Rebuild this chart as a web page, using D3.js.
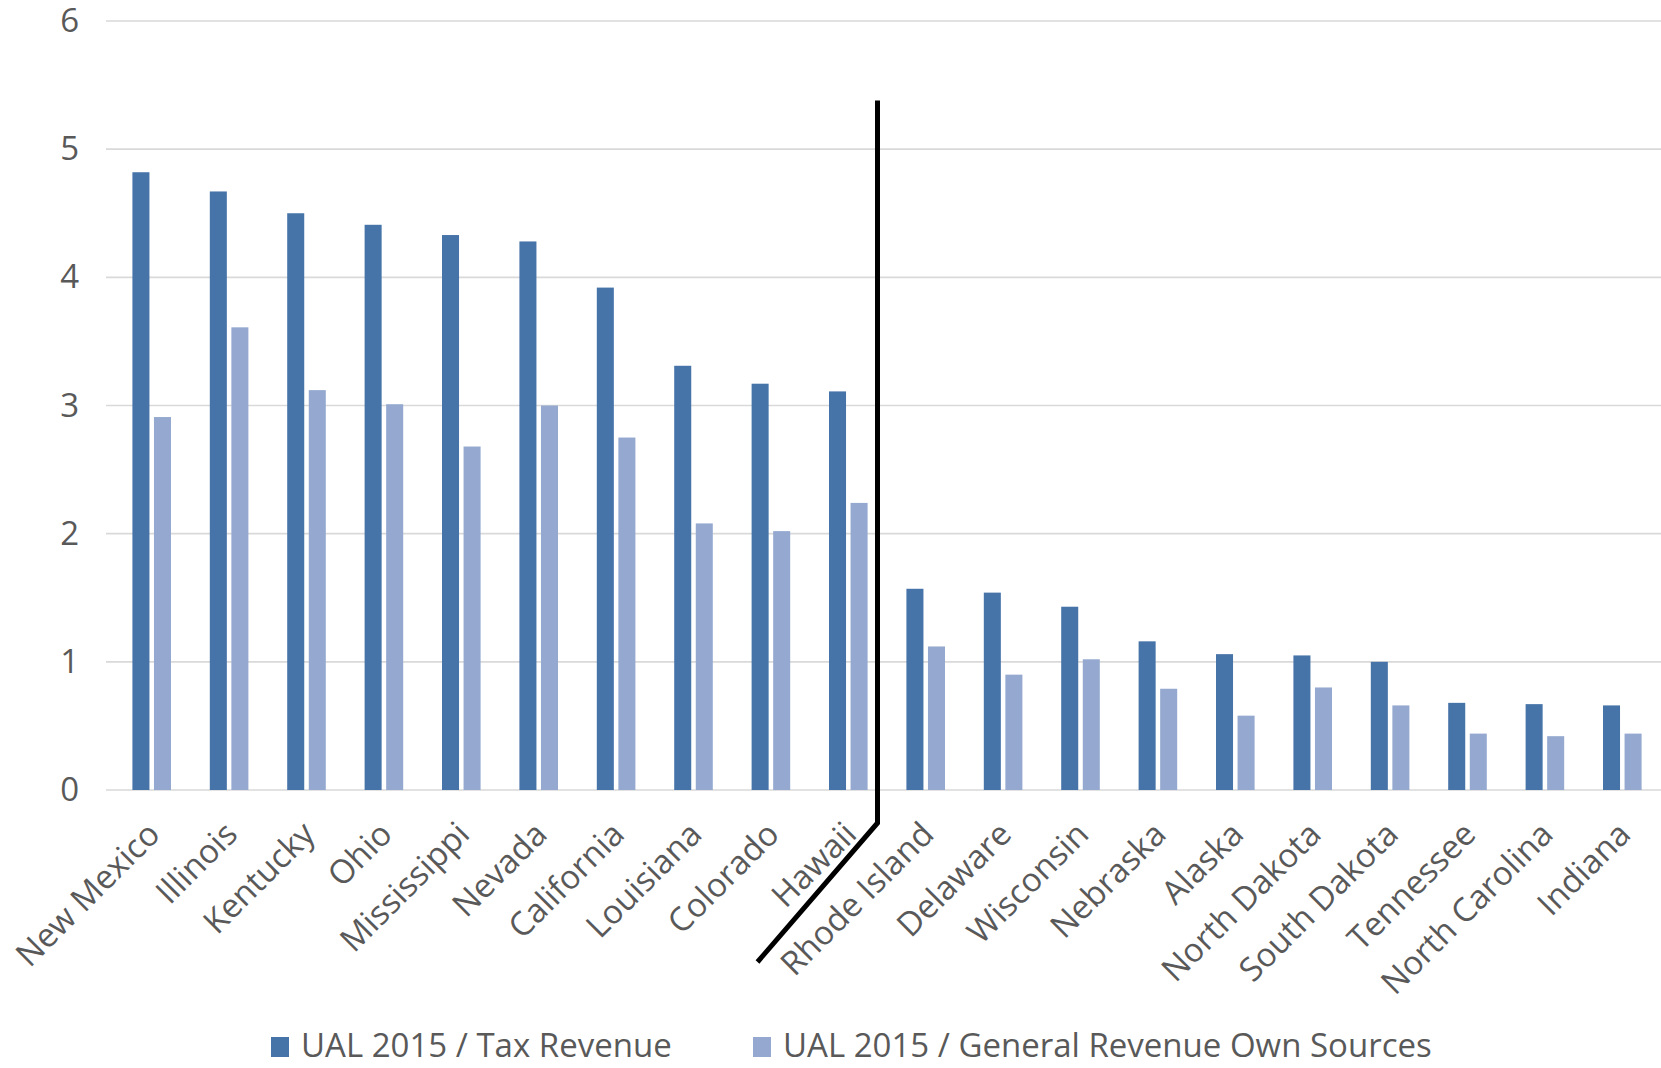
<!DOCTYPE html>
<html>
<head>
<meta charset="utf-8">
<script src="https://cdn.jsdelivr.net/npm/d3@7"></script>
<style>
  html, body { margin: 0; padding: 0; background: #fff; }
  svg { display: block; }
  text { font-family: "Open Sans", "Noto Sans", sans-serif; fill: #595959; }
</style>
</head>
<body>
<svg id="chart" width="1661" height="1068"></svg>
<script>
// States ordered by unfunded accrued liability (2015) relative to tax revenue
const states = ["New Mexico", "Illinois", "Kentucky", "Ohio", "Mississippi", "Nevada",
  "California", "Louisiana", "Colorado", "Hawaii", "Rhode Island", "Delaware",
  "Wisconsin", "Nebraska", "Alaska", "North Dakota", "South Dakota", "Tennessee",
  "North Carolina", "Indiana"];

const taxRevenue = [4.82, 4.67, 4.50, 4.41, 4.33, 4.28, 3.92, 3.31, 3.17, 3.11,
  1.57, 1.54, 1.43, 1.16, 1.06, 1.05, 1.00, 0.68, 0.67, 0.66];

const generalRevenue = [2.91, 3.61, 3.12, 3.01, 2.68, 3.00, 2.75, 2.08, 2.02, 2.24,
  1.12, 0.90, 1.02, 0.79, 0.58, 0.80, 0.66, 0.44, 0.42, 0.44];

const seriesNames = ["UAL 2015 / Tax Revenue", "UAL 2015 / General Revenue Own Sources"];
const seriesColors = ["#4674a8", "#95a9d0"];
const yTicks = [0, 1, 2, 3, 4, 5, 6];

const svg = d3.select("#chart");

const x0 = d3.scaleBand().domain(states).range([113, 1661]).padding(0);
const x1 = d3.scaleBand().domain([0, 1]).range([0, x0.bandwidth()])
  .paddingInner(0.21).paddingOuter(0.9);
const y = d3.scaleLinear().domain([0, 6]).range([790, 21]);

// horizontal gridlines
svg.append("g")
  .selectAll("line")
  .data(yTicks)
  .join("line")
  .attr("x1", 106)
  .attr("x2", 1661)
  .attr("y1", d => y(d))
  .attr("y2", d => y(d))
  .attr("stroke", "#d9d9d9")
  .attr("stroke-width", 1.6);

// y axis labels
const yAxis = svg.append("g")
  .attr("transform", "translate(79,0)")
  .call(d3.axisLeft(y).tickValues(yTicks).tickSize(0).tickPadding(0).tickFormat(d3.format("d")));
yAxis.select(".domain").remove();
yAxis.selectAll("text")
  .attr("font-size", 33)
  .attr("fill", "#595959")
  .attr("font-family", "Open Sans");

// bars
const rows = states.map((s, i) => ({ state: s, values: [taxRevenue[i], generalRevenue[i]] }));
const groups = svg.append("g")
  .selectAll("g")
  .data(rows)
  .join("g")
  .attr("transform", d => `translate(${x0(d.state)},0)`);

groups.selectAll("rect")
  .data(d => d.values.map((v, k) => ({ k, v })))
  .join("rect")
  .attr("x", d => x1(d.k))
  .attr("width", x1.bandwidth())
  .attr("y", d => y(d.v))
  .attr("height", d => y(0) - y(d.v))
  .attr("fill", d => seriesColors[d.k]);

// category labels, rotated
const xAxis = svg.append("g")
  .attr("transform", `translate(0,${y(0)})`)
  .call(d3.axisBottom(x0).tickSize(0).tickPadding(0));
xAxis.select(".domain").remove();
xAxis.selectAll("text")
  .attr("font-size", 33)
  .attr("font-family", "Open Sans")
  .attr("fill", "#595959")
  .attr("text-anchor", "end")
  .attr("dy", "0.35em")
  .attr("transform", "translate(2,38) rotate(-45)");

// divider between the two groups of states
const lineX = x0("Rhode Island") - 9.5;
const divider = [
  [lineX, y(5.38)],
  [lineX, y(0) + 33],
  [lineX - 120, y(0) + 172]
];
svg.append("path")
  .attr("d", d3.line()(divider))
  .attr("fill", "none")
  .attr("stroke", "#000")
  .attr("stroke-width", 5)
  .attr("stroke-linejoin", "miter");

// legend
const legendX = [271, 753];
const legend = svg.append("g")
  .selectAll("g")
  .data(seriesNames)
  .join("g")
  .attr("transform", (d, i) => `translate(${legendX[i]},1037)`);
legend.append("rect")
  .attr("width", 18)
  .attr("height", 20)
  .attr("fill", (d, i) => seriesColors[i]);
legend.append("text")
  .attr("x", 30)
  .attr("y", 20)
  .attr("font-size", 33)
  .text(d => d);
</script>
</body>
</html>
